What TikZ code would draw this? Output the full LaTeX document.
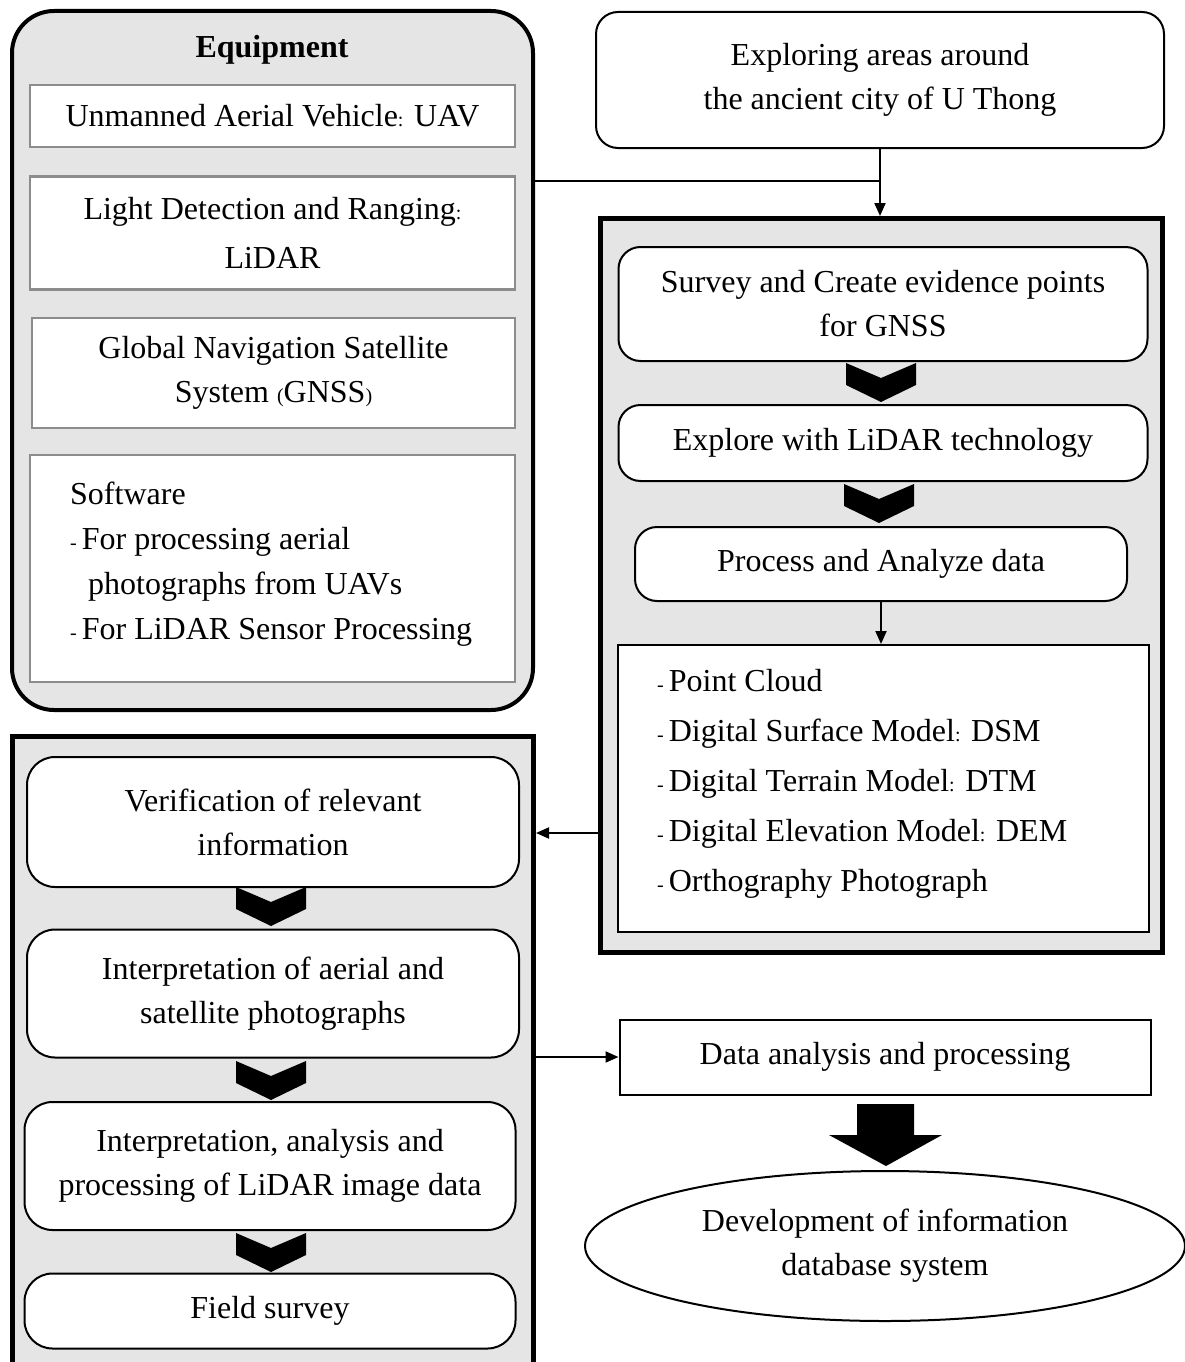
\documentclass[tikz,border=0pt]{standalone}
\usepackage{fontspec}
\setmainfont{Liberation Serif}
\usetikzlibrary{shapes.geometric,arrows.meta}
\definecolor{panelgray}{RGB}{229,229,229}
\definecolor{itemgray}{RGB}{140,140,140}
\newcommand\sm[1]{{\fontsize{20}{20}\selectfont #1}}
\begin{document}
\begin{tikzpicture}[x=1pt,y=-1pt,
  every node/.style={font=\fontsize{32}{44}\selectfont, inner sep=0pt, align=center},
  panelbox/.style={draw, line width=5, fill=panelgray},
  itembox/.style={draw=itemgray, line width=2.5, fill=white},
  rbox/.style={draw, line width=2, fill=white, rounded corners=22},
  lbox/.style={draw, line width=2, fill=white, rounded corners=28},
  sqbox/.style={draw, line width=2, fill=white},
  conn/.style={line width=2, -{Triangle[length=13pt,width=11pt]}},
  chevron/.pic={\fill (-35,0) -- (0,15) -- (35,0) -- (35,22) -- (0,39) -- (-35,22) -- cycle;}
]
\useasboundingbox (0,0) rectangle (1184,1362);

% Equipment panel
\node[draw, line width=4, fill=panelgray, rounded corners=42, minimum width=521, minimum height=699] (equip) at (272.5,360.5) {};
\node[font=\bfseries\fontsize{32}{44}\selectfont] (equiptitle) at (272,50) {Equipment};
\node[itembox, minimum width=485, minimum height=62] (uav) at (272.5,116) {Unmanned Aerial Vehicle\sm{:} UAV};
\node[itembox, minimum width=485, minimum height=113, font=\fontsize{32}{49}\selectfont] (lidar) at (272.5,233) {Light Detection and Ranging\sm{:}\\LiDAR};
\node[itembox, minimum width=483, minimum height=110] (gnss) at (273.5,373) {Global Navigation Satellite\\System \sm{(}GNSS\sm{)}};
\node[itembox, minimum width=485, minimum height=227] (software) at (272.5,568.5) {};
\node[anchor=west, align=left, font=\fontsize{32}{45}\selectfont] (swtext) at (70,564) {Software\\\sm{- }For processing aerial\\\hspace{18pt}photographs from UAVs\\\sm{- }For LiDAR Sensor Processing};

% Exploring
\node[rbox, minimum width=568, minimum height=136] (explore) at (880,80) {Exploring areas around\\the ancient city of U Thong};

% Right panel
\node[panelbox, minimum width=562, minimum height=734] (rpanel) at (881.5,585.5) {};
\node[rbox, minimum width=529, minimum height=114] (survey) at (883,304) {Survey and Create evidence points\\for GNSS};
\node[rbox, minimum width=529, minimum height=76] (lidartech) at (883,443) {Explore with LiDAR technology};
\node[rbox, minimum width=492, minimum height=74] (process) at (881,564) {Process and Analyze data};
\node[sqbox, minimum width=531, minimum height=287] (products) at (883.5,788.5) {};
\node[anchor=west, align=left, font=\fontsize{32}{50}\selectfont] (prodtext) at (657,784) {\sm{- }Point Cloud\\\sm{- }Digital Surface Model\sm{:} DSM\\\sm{- }Digital Terrain Model\sm{:} DTM\\\sm{- }Digital Elevation Model\sm{:} DEM\\\sm{- }Orthography Photograph};
\pic at (881,363) {chevron};
\pic at (879,484) {chevron};

% Left panel
\node[panelbox, minimum width=521, minimum height=644] (lpanel) at (273,1058.5) {};
\node[lbox, minimum width=492, minimum height=130] (verif) at (273,822) {Verification of relevant\\information};
\node[lbox, minimum width=492, minimum height=128] (interp) at (273,993.5) {Interpretation of aerial and\\satellite photographs};
\node[lbox, minimum width=491, minimum height=128] (interplidar) at (270,1166) {Interpretation, analysis and\\processing of LiDAR image data};
\node[lbox, minimum width=491, minimum height=75] (field) at (270,1311) {Field survey};
\pic at (271,887) {chevron};
\pic at (271,1061) {chevron};
\pic at (271,1233) {chevron};

% Bottom right
\node[sqbox, minimum width=531, minimum height=75] (data) at (885,1057) {Data analysis and processing};
\node[ellipse, draw, line width=2, fill=white, minimum width=600, minimum height=150] (db) at (885,1246) {Development of information\\database system};
\fill (857,1104) -- (914,1104) -- (914,1135) -- (942,1135) -- (886,1166) -- (829,1135) -- (857,1135) -- cycle;

% Connectors
\coordinate (jn) at (880,181);
\coordinate (ay) at (0,833);
\draw[line width=2] (jn -| equip.east) -- (jn);
\draw[conn] (explore.south) -- (explore.south |- rpanel.north);
\draw[conn] (process.south) -- (process.south |- products.north);
\draw[conn] (rpanel.west |- ay) -- (lpanel.east |- ay);
\draw[conn] (data.west -| lpanel.east) -- (data.west);
\end{tikzpicture}
\end{document}
